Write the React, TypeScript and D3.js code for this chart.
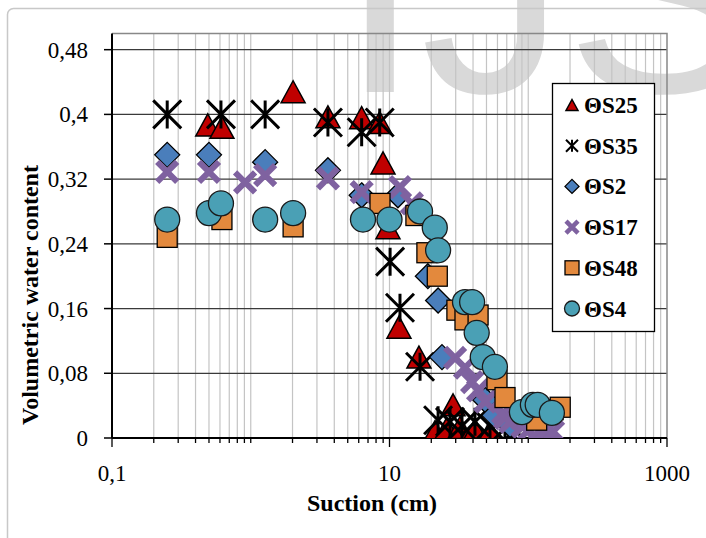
import React from "react";
import * as d3 from "d3";

// series names (legend order = drawing order)
const seriesNames = ["ΘS25", "ΘS35", "ΘS2", "ΘS17", "ΘS48", "ΘS4"];

// suction (cm) / volumetric water content
const s25Suction = [0.49, 0.62, 2.02, 3.6, 6.3, 8.5, 8.98, 9.75, 11.7, 16.3, 21.3, 25.9, 28.7, 32.2, 41.3, 53];
const s25Theta = [0.387, 0.384, 0.428, 0.397, 0.396, 0.39, 0.34, 0.26, 0.137, 0.1, 0.008, 0.012, 0.041, 0.013, 0.01, 0.008];

const s35Suction = [0.25, 0.61, 1.27, 3.6, 6.3, 8.5, 10.1, 11.9, 16.6, 22.4, 27.3, 33.3, 41.3, 53, 68, 80];
const s35Theta = [0.4, 0.4, 0.4, 0.39, 0.378, 0.39, 0.218, 0.161, 0.088, 0.022, 0.02, 0.015, 0.02, 0.015, 0.012, 0.01];

const s2Suction = [0.25, 0.5, 1.27, 3.6, 6.3, 11.5, 18.9, 22.4, 23.9, 49, 57, 74];
const s2Theta = [0.35, 0.35, 0.341, 0.331, 0.3, 0.3, 0.2, 0.17, 0.1, 0.047, 0.028, 0.016];

const s17Suction = [0.25, 0.5, 0.91, 1.27, 3.6, 6.3, 11.9, 14.5, 29.7, 35, 39.4, 43.5, 49, 66, 68, 74, 91, 101, 122, 136, 151];
const s17Theta = [0.329, 0.329, 0.316, 0.325, 0.321, 0.304, 0.31, 0.29, 0.099, 0.087, 0.069, 0.059, 0.045, 0.031, 0.025, 0.02, 0.014, 0.01, 0.01, 0.01, 0.008];

const s48Suction = [0.25, 0.62, 2.02, 8.54, 15.5, 18.6, 22.1, 30.6, 35, 43.5, 59.5, 68, 115, 151, 170];
const s48Theta = [0.248, 0.27, 0.261, 0.29, 0.275, 0.229, 0.2, 0.158, 0.146, 0.152, 0.072, 0.05, 0.022, 0.035, 0.038];

const s4Suction = [0.25, 0.5, 0.61, 1.27, 2.02, 6.44, 10, 16.6, 21.2, 22.4, 35, 39.4, 42.5, 47, 57.5, 90, 108, 117, 148];
const s4Theta = [0.27, 0.278, 0.29, 0.27, 0.278, 0.27, 0.27, 0.28, 0.26, 0.232, 0.168, 0.168, 0.13, 0.1, 0.088, 0.032, 0.041, 0.041, 0.031];

const yTicks = [0, 0.08, 0.16, 0.24, 0.32, 0.4, 0.48];
const xLabelTicks = [0.1, 10, 1000];

const W = 706;
const H = 538;
const serif = "'Liberation Serif', 'Times New Roman', serif";

// marker path helpers
const triangle = (w: number, h: number) => `M0,${-h / 2}L${w / 2},${h / 2}L${-w / 2},${h / 2}Z`;
const diamond = (s: number) => `M0,${-s}L${s},0L0,${s}L${-s},0Z`;
const star = (s: number) => `M0,${-s}V${s}M${-s},${-s}L${s},${s}M${s},${-s}L${-s},${s}`;
const cross = (s: number) => `M${-s},${-s}L${s},${s}M${s},${-s}L${-s},${s}`;

const Marker = ({ kind, small }: { kind: number; small?: boolean }) => {
  const k = small ? 0.5 : 1;
  if (kind === 0) return <path d={triangle(24 * k, 22 * k)} fill="#c00000" stroke="#000" strokeWidth={1.5} />;
  if (kind === 1) return <path d={star(small ? 6 : 14)} fill="none" stroke="#000" strokeWidth={small ? 2 : 3} />;
  if (kind === 2) return <path d={diamond(small ? 7 : 12.5)} fill="#4a7ebb" stroke="#000" strokeWidth={1.3} />;
  if (kind === 3) return <path d={cross(small ? 6 : 10)} fill="none" stroke="#7f62a0" strokeWidth={small ? 4.5 : 6} />;
  if (kind === 4) {
    const s = small ? 7 : 10;
    return <rect x={-s} y={-s} width={2 * s} height={2 * s} fill="#e3893d" stroke="#000" strokeWidth={1.3} />;
  }
  return <circle r={small ? 7.5 : 12.5} fill="#4aa0b5" stroke="#1a1a1a" strokeWidth={1.3} />;
};

export default function App() {
  const x = d3.scaleLog().domain([0.1, 1000]).range([112, 667]);
  const y = d3.scaleLinear().domain([0, 0.5]).range([438, 33.5]);

  const series = [
    [s25Suction, s25Theta],
    [s35Suction, s35Theta],
    [s2Suction, s2Theta],
    [s17Suction, s17Theta],
    [s48Suction, s48Theta],
    [s4Suction, s4Theta],
  ];

  // every 1..9 x 10^k between 0.1 and 1000
  const minor: number[] = [];
  [0.1, 1, 10, 100].forEach((d) => d3.range(1, 10).forEach((m) => minor.push(+(m * d).toPrecision(3))));
  minor.push(1000);

  const [x0, x1] = x.range();
  const [y0, y1] = y.range();

  return (
    <svg width={W} height={H} style={{ position: "absolute", left: 0, top: 0 }}>
      <defs>
        <clipPath id="plot">
          <rect x={x0 - 20} y={y1 - 20} width={x1 - x0 + 40} height={y0 - y1 + 20} />
        </clipPath>
      </defs>
      <rect width={W} height={H} fill="#fff" />
      {/* watermark */}
      <text x={340} y={92} fontFamily="'Liberation Sans', Arial, sans-serif" fontSize={290} fill="#d9d9d9">
        IJSER
      </text>
      {/* outer chart border */}
      <rect x={7.5} y={8.5} width={760} height={600} rx={6} fill="none" stroke="#c8c8c8" strokeWidth={1.5} />

      {/* vertical minor gridlines */}
      {minor.filter((v) => v > 0.1 && v < 1000).map((v) => (
        <line key={"g" + v} x1={x(v)} x2={x(v)} y1={y1} y2={y0} stroke="#c4c4c4" strokeWidth={1.2} />
      ))}
      {/* horizontal major gridlines */}
      {yTicks.filter((v) => v > 0).map((v) => (
        <line key={"h" + v} x1={x0} x2={x1} y1={y(v)} y2={y(v)} stroke="#3a3a3a" strokeWidth={1.3} />
      ))}
      {/* plot area border (top/right) */}
      <path d={`M${x0},${y1}H${x1}V${y0}`} fill="none" stroke="#888" strokeWidth={1.5} />

      {/* axes */}
      <line x1={x0} x2={x0} y1={y1} y2={y0} stroke="#000" strokeWidth={2} />
      <line x1={x0} x2={x1} y1={y0} y2={y0} stroke="#000" strokeWidth={2} />
      {yTicks.map((v) => (
        <g key={"yt" + v}>
          <line x1={x0 - 8} x2={x0} y1={y(v)} y2={y(v)} stroke="#000" strokeWidth={1.5} />
          <text x={88} y={y(v)} dy="0.35em" textAnchor="end" fontFamily={serif} fontSize={23}>
            {String(v).replace(".", ",")}
          </text>
        </g>
      ))}
      {minor.map((v) => {
        const major = xLabelTicks.includes(v);
        return (
          <line key={"xt" + v} x1={x(v)} x2={x(v)} y1={y0} y2={y0 + (major ? 9 : 5)} stroke="#000" strokeWidth={1.3} />
        );
      })}
      {xLabelTicks.map((v) => (
        <text key={"xl" + v} x={x(v)} y={481} textAnchor="middle" fontFamily={serif} fontSize={23}>
          {String(v).replace(".", ",")}
        </text>
      ))}

      {/* axis titles */}
      <text x={372} y={511} textAnchor="middle" fontFamily={serif} fontSize={24} fontWeight="bold">
        Suction (cm)
      </text>
      <text transform="translate(38,295) rotate(-90)" textAnchor="middle" fontFamily={serif} fontSize={24} fontWeight="bold">
        Volumetric water content
      </text>

      {/* data */}
      <g clipPath="url(#plot)">
        {series.map(([xs, ys], si) =>
          xs.map((sv, i) => (
            <g key={si + "-" + i} transform={`translate(${x(sv)},${y(ys[i])})`}>
              <Marker kind={si} />
            </g>
          ))
        )}
      </g>

      {/* legend */}
      <rect x={552.5} y={83.5} width={102} height={248} fill="#fff" stroke="#000" strokeWidth={1.3} />
      {seriesNames.map((name, i) => {
        const cy = 105 + i * 40.7;
        return (
          <g key={name}>
            <g transform={`translate(572,${cy})`}>
              <Marker kind={i} small />
            </g>
            <text x={584} y={cy} dy="0.35em" fontFamily={serif} fontSize={23} fontWeight="bold">
              {name}
            </text>
          </g>
        );
      })}
    </svg>
  );
}
